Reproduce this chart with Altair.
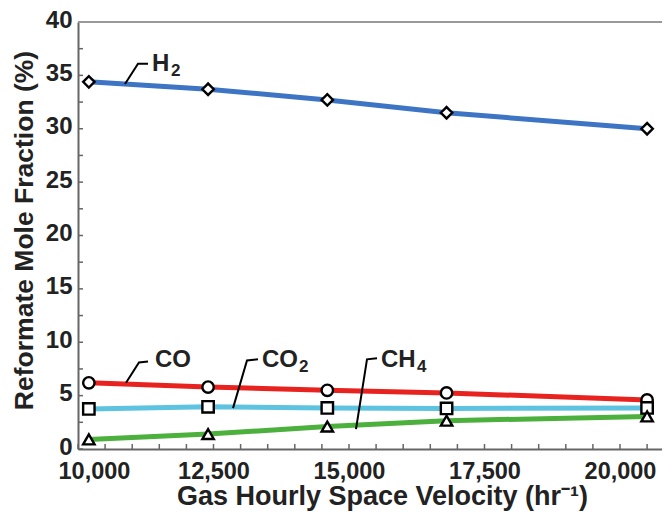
import altair as alt
import pandas as pd

# ---- data ----
ghsv = [10200, 12400, 14600, 16800, 20500]
h2 = [34.4, 33.7, 32.7, 31.5, 30.0]
co = [6.2, 5.8, 5.5, 5.25, 4.6]
co2 = [3.75, 3.95, 3.85, 3.8, 3.85]
ch4 = [0.9, 1.4, 2.1, 2.65, 3.05]

species = ["H2", "CO", "CO2", "CH4"]
line_colors = ["#3d74c4", "#e8221e", "#5ec3e0", "#4cb03c"]
marker_shapes = ["diamond", "circle", "square", "triangle-up"]

x_major = [10000, 12500, 15000, 17500, 20000]
x_minor = [10000, 10500, 11000, 11500, 12000, 12500, 13000, 13500, 14000, 14500,
           15000, 15500, 16000, 16500, 17000, 17500, 18000, 18500, 19000, 19500,
           20000, 20500]
y_major = [0, 5, 10, 15, 20, 25, 30, 35, 40]
y_minor = [0, 2.5, 5, 7.5, 10, 12.5, 15, 17.5, 20, 22.5, 25, 27.5, 30, 32.5,
           35, 37.5, 40]

# annotation labels (main text, subscript) and leader lines
label_main = ["H", "CO", "CO", "CH"]
label_sub = ["2", "", "2", "4"]
label_x = [11365, 11421, 13395, 15590]
label_y = [36.1, 8.3, 8.3, 8.3]
leader_x = [[10867, 11107, 11292], [10886, 11125, 11292],
            [12860, 13118, 13321], [15129, 15332, 15517]]
leader_y = [[34.2, 36.1, 36.1], [6.2, 8.1, 8.2],
            [3.83, 8.3, 8.4], [1.87, 8.4, 8.5]]

W, H = 584, 427
X_DOMAIN = [10000, 20775]
FONT = "Liberation Sans"
TXT = "#222222"

rows = []
for sp, vals in zip(species, [h2, co, co2, ch4]):
    for xv, yv in zip(ghsv, vals):
        rows.append({"species": sp, "ghsv": xv, "frac": yv})
df = pd.DataFrame(rows)

xs = alt.Scale(domain=X_DOMAIN, nice=False, zero=False)
ys = alt.Scale(domain=[0, 40], nice=False)

x_axis = alt.Axis(values=x_major, format=",d", tickSize=0, grid=False,
                  domainColor="#666666", domainWidth=2,
                  labelFont=FONT, labelFontWeight="bold", labelFontSize=23.5,
                  labelColor=TXT, labelPadding=10, labelFlush=True,
                  labelFlushOffset=20,
                  title="Gas Hourly Space Velocity (hr\u207b\u00b9)",
                  titleFont=FONT, titleFontWeight="bold", titleFontSize=27,
                  titleColor=TXT, titlePadding=1, titleX=304)
y_axis = alt.Axis(values=y_major, tickSize=0, grid=False,
                  domainColor="#666666", domainWidth=2,
                  labelFont=FONT, labelFontWeight="bold", labelFontSize=24,
                  labelColor=TXT, labelPadding=6, labelOffset=-2,
                  title="Reformate Mole Fraction (%)",
                  titleFont=FONT, titleFontWeight="bold", titleFontSize=26.5,
                  titleColor=TXT, titlePadding=7, titleY=208)

base = alt.Chart(df)
color_enc = alt.Color("species:N", scale=alt.Scale(domain=species, range=line_colors), legend=None)

lines = base.mark_line(strokeWidth=5).encode(
    x=alt.X("ghsv:Q", scale=xs, axis=x_axis),
    y=alt.Y("frac:Q", scale=ys, axis=y_axis),
    color=color_enc,
)
points = base.mark_point(filled=True, fill="white", stroke="black", strokeWidth=2.4,
                         size=130, opacity=1).encode(
    x=alt.X("ghsv:Q", scale=xs),
    y=alt.Y("frac:Q", scale=ys),
    shape=alt.Shape("species:N", scale=alt.Scale(domain=species, range=marker_shapes), legend=None),
)

# inner ticks
xt_major = alt.Chart(pd.DataFrame({"v": x_minor})).mark_rule(color="#666666", strokeWidth=1.5).encode(
    x=alt.X("v:Q", scale=xs), y=alt.value(H), y2=alt.value(H - 5))
yt_minor = alt.Chart(pd.DataFrame({"v": y_minor})).mark_rule(color="#666666", strokeWidth=1.5).encode(
    y=alt.Y("v:Q", scale=ys), x=alt.value(0), x2=alt.value(5))
top_border = alt.Chart(pd.DataFrame({"v": [40]})).mark_rule(color="#999999", strokeWidth=2).encode(
    y=alt.Y("v:Q", scale=ys), x=alt.value(0), x2=alt.value(W))

# leader lines
lrows = []
for sp, lx, ly in zip(species, leader_x, leader_y):
    for i, (a, b) in enumerate(zip(lx, ly)):
        lrows.append({"species": sp, "o": i, "x": a, "y": b})
leaders = alt.Chart(pd.DataFrame(lrows)).mark_line(color="black", strokeWidth=2).encode(
    x=alt.X("x:Q", scale=xs), y=alt.Y("y:Q", scale=ys), detail="species:N", order="o:Q")

main_text = alt.Chart(pd.DataFrame({"t": label_main, "x": label_x, "y": label_y})).mark_text(
    align="left", baseline="middle", font=FONT, fontWeight="bold", fontSize=24, color=TXT
).encode(x=alt.X("x:Q", scale=xs), y=alt.Y("y:Q", scale=ys), text="t:N")

sub_dx = {"H": 18, "CO": 36, "CH": 35}
sub_layers = []
for m, s, xv, yv in zip(label_main, label_sub, label_x, label_y):
    if s:
        sub_layers.append(
            alt.Chart(pd.DataFrame({"t": [s], "x": [xv], "y": [yv]})).mark_text(
                align="left", baseline="middle", font=FONT, fontWeight="bold", fontSize=17,
                color=TXT, dx=sub_dx[m] + 1, dy=7
            ).encode(x=alt.X("x:Q", scale=xs), y=alt.Y("y:Q", scale=ys), text="t:N")
        )

chart = alt.layer(lines, xt_major, yt_minor, top_border, leaders, points, main_text, *sub_layers).properties(
    width=W, height=H,
    padding={"left": 70, "top": 14, "right": 0, "bottom": 62},
    autosize=alt.AutoSizeParams(type="none"),
    background="white",
).configure_view(stroke=None)

chart.save("out.html", embed_options={"renderer": "svg", "actions": False})
